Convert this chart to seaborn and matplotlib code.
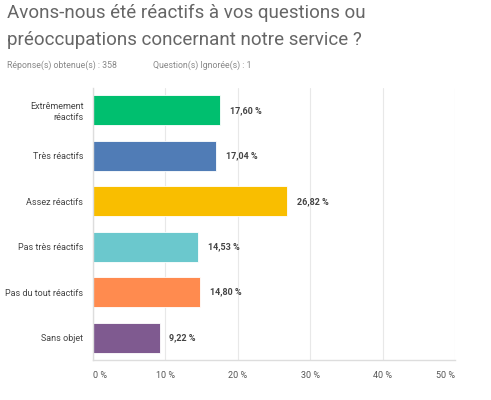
import matplotlib
matplotlib.use("Agg")
import matplotlib.pyplot as plt
import seaborn as sns
import pandas as pd

categories = ["Extrêmement\nréactifs", "Très réactifs", "Assez réactifs",
              "Pas très réactifs", "Pas du tout réactifs", "Sans objet"]
values = [17.60, 17.04, 26.82, 14.53, 14.80, 9.22]
value_labels = ["17,60 %", "17,04 %", "26,82 %", "14,53 %", "14,80 %", "9,22 %"]
tick_values = [0, 10, 20, 30, 40, 50]
tick_labels = ["0 %", "10 %", "20 %", "30 %", "40 %", "50 %"]
colors = ["#00BF6F", "#507CB6", "#F9BE00", "#6BC8CD", "#FF8B4F", "#7F5A90"]

sns.set_theme(style="white")
plt.rcParams['font.family'] = ['Roboto', 'DejaVu Sans']

df = pd.DataFrame({"cat": categories, "val": values})

fig = plt.figure(figsize=(4.91, 4.00), dpi=100)
W, H = 491, 400
ax = fig.add_axes([93 / W, 1 - 360 / H, (455 - 93) / W, (360 - 88) / H])

sns.barplot(data=df, x="val", y="cat", hue="cat", palette=colors, legend=False,
            width=0.66, ax=ax, edgecolor="white", linewidth=0.6, saturation=1)

ax.set_xlim(0, 50)
ax.set_ylim(5.49, -0.49)
ax.set_xticks(tick_values)
ax.set_xticklabels(tick_labels, fontsize=6.5, color="#555555")
xl = ax.get_xticklabels()
xl[0].set_horizontalalignment("left")
xl[-1].set_horizontalalignment("right")
ax.tick_params(axis="x", length=0, pad=8)
ax.tick_params(axis="y", length=0, pad=7)
for lbl in ax.get_yticklabels():
    lbl.set_fontsize(6.5)
    lbl.set_color("#444444")
    lbl.set_horizontalalignment("right")
ax.set_xlabel("")
ax.set_ylabel("")
ax.grid(axis="x", color="#E8E8E8", linewidth=0.8)
ax.set_axisbelow(True)
for s in ["top", "right"]:
    ax.spines[s].set_visible(False)
for s in ["left", "bottom"]:
    ax.spines[s].set_color("#DDDDDD")
    ax.spines[s].set_linewidth(1.0)

for i, (v, t) in enumerate(zip(values, value_labels)):
    ax.annotate(t, xy=(v, i), xytext=(7, 0), textcoords="offset points",
                va="center", ha="left", fontsize=6.5, fontweight="bold", color="#444444")

fig.text(7 / W, 1 - 13 / H, "Avons-nous été réactifs à vos questions ou",
         fontsize=13.5, color="#666666", va="center", ha="left")
fig.text(7 / W, 1 - 40 / H, "préoccupations concernant notre service ?",
         fontsize=13.5, color="#666666", va="center", ha="left")
fig.text(7 / W, 1 - 65 / H, "Réponse(s) obtenue(s) : 358",
         fontsize=6.3, color="#888888", va="center", ha="left")
fig.text(153 / W, 1 - 65 / H, "Question(s) Ignorée(s) : 1",
         fontsize=6.3, color="#888888", va="center", ha="left")

fig.savefig("out.png", dpi=100, facecolor="white")
